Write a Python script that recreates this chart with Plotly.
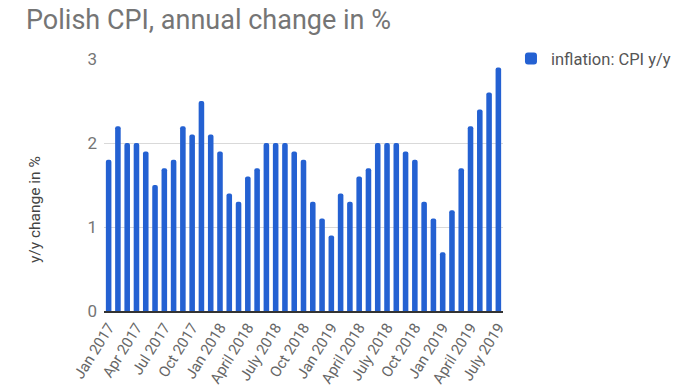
import plotly.graph_objects as go

months = (
    ["Jan 2017", "Feb 2017", "Mar 2017", "Apr 2017", "May 2017", "Jun 2017",
     "Jul 2017", "Aug 2017", "Sep 2017", "Oct 2017", "Nov 2017", "Dec 2017",
     "Jan 2018", "Feb 2018", "Mar 2018", "April 2018", "May 2018", "June 2018",
     "July 2018", "Aug 2018", "Sep 2018", "Oct 2018", "Nov 2018", "Dec 2018",
     "Jan 2019",
     "Feb 2018", "Mar 2018", "April 2018", "May 2018", "June 2018",
     "July 2018", "Aug 2018", "Sep 2018", "Oct 2018", "Nov 2018", "Dec 2018",
     "Jan 2019", "Feb 2019", "Mar 2019", "April 2019", "May 2019", "June 2019",
     "July 2019"]
)
cpi_yy = [1.8, 2.2, 2.0, 2.0, 1.9, 1.5, 1.7, 1.8, 2.2, 2.1, 2.5, 2.1,
          1.9, 1.4, 1.3, 1.6, 1.7, 2.0, 2.0, 2.0, 1.9, 1.8, 1.3, 1.1,
          0.9, 1.4, 1.3, 1.6, 1.7, 2.0, 2.0, 2.0, 1.9, 1.8, 1.3, 1.1,
          0.7, 1.2, 1.7, 2.2, 2.4, 2.6, 2.9]
y_ticks = [0, 1, 2, 3]
label_step = 3

x_idx = list(range(len(months)))
tick_idx = x_idx[::label_step]
tick_text = [months[i] for i in tick_idx]

fig = go.Figure()
fig.add_trace(go.Bar(
    x=x_idx, y=cpi_yy, name="inflation: CPI y/y",
    marker=dict(color="#2461d2", line=dict(width=0), cornerradius=2),
    hovertext=months,
))

fig.update_layout(
    width=700, height=392,
    paper_bgcolor="white", plot_bgcolor="white",
    margin=dict(l=104, r=197, t=59, b=81, autoexpand=False),
    font=dict(family="Roboto, Arial, sans-serif", color="#757575"),
    title=dict(text="Polish CPI, annual change in %", x=26/700, xref="container",
               xanchor="left", y=1 - 20/392, yref="container", yanchor="middle",
               font=dict(size=27, color="#757575")),
    bargap=0.4,
    showlegend=True,
    legend=dict(x=1.02, xanchor="left", y=1.07, yanchor="top",
                font=dict(size=16.5, color="#555555"),
                bgcolor="rgba(0,0,0,0)"),
    annotations=[dict(
        text="y/y change in %", textangle=-90,
        xref="paper", yref="paper",
        x=(35 - 104) / 399, y=(311 - 210) / 252,
        xanchor="center", yanchor="middle", showarrow=False,
        font=dict(size=15.5, color="#444444"),
    )],
)
fig.update_xaxes(
    range=[-0.5, len(months) - 0.5],
    tickmode="array", tickvals=tick_idx, ticktext=tick_text,
    tickangle=-58, tickfont=dict(size=15, color="#666666"),
    showgrid=False, showline=True, linecolor="#333333", linewidth=1.5,
    ticks="", automargin=False,
)
fig.update_yaxes(
    range=[0, 3], tickmode="array", tickvals=y_ticks,
    tickfont=dict(size=17, color="#757575"), ticklabelstandoff=6,
    showgrid=True, gridcolor="#d9d9d9", gridwidth=1,
    zeroline=False, ticks="", automargin=False,
)

fig.write_html("out.html", config={"displayModeBar": False},
               post_script="document.body.style.margin='0';")
